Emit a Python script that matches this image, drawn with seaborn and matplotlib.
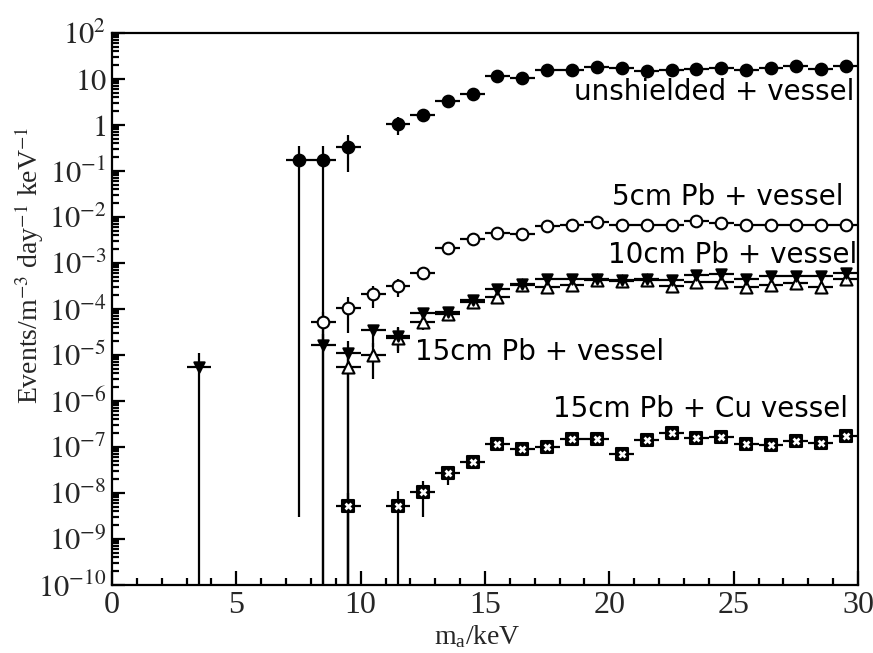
import numpy as np
import pandas as pd
import matplotlib
matplotlib.use("Agg")
import matplotlib.pyplot as plt
import seaborn as sns
from matplotlib.ticker import FixedLocator, FixedFormatter, MultipleLocator, LogLocator, NullFormatter

# ---------------- data: bin centres (keV), rates and error-bar bounds ----------------
BIN_HALF = 0.5

unsh_x = [7.5, 8.5, 9.5, 11.5, 12.5, 13.5, 14.5, 15.5, 16.5, 17.5, 18.5, 19.5,
          20.5, 21.5, 22.5, 23.5, 24.5, 25.5, 26.5, 27.5, 28.5, 29.5]
unsh_y = [0.17, 0.17, 0.33, 1.05, 1.65, 3.3, 4.7, 11.7, 10.5, 15.7, 15.7, 18.3,
          17.3, 14.9, 15.7, 16.5, 17.3, 15.7, 17.3, 19.2, 16.5, 19.2]
unsh_lo = [3e-9, 0.0, 0.095, 0.6, 1.15, 2.8, 4.2, 11.0, 9.9, 14.9, 14.9, 17.4,
           16.4, 14.1, 14.9, 15.7, 16.4, 14.9, 16.4, 18.3, 15.7, 18.3]
unsh_hi = [0.35, 0.35, 0.6, 1.5, 2.15, 4.0, 5.4, 12.4, 11.1, 16.5, 16.5, 19.2,
           18.2, 15.7, 16.5, 17.3, 18.2, 16.5, 18.2, 20.1, 17.3, 20.1]

pb5_x = [8.5, 9.5, 10.5, 11.5, 12.5, 13.5, 14.5, 15.5, 16.5, 17.5, 18.5, 19.5,
         20.5, 21.5, 22.5, 23.5, 24.5, 25.5, 26.5, 27.5, 28.5, 29.5]
pb5_y = [5.2e-5, 1.05e-4, 2.1e-4, 3.2e-4, 6.0e-4, 2.1e-3, 3.3e-3, 4.6e-3, 4.2e-3,
         6.5e-3, 6.7e-3, 7.6e-3, 6.8e-3, 6.7e-3, 6.7e-3, 8.2e-3, 7.5e-3, 6.8e-3,
         6.7e-3, 6.6e-3, 6.7e-3, 6.6e-3]
pb5_lo = [2.0e-5, 3.0e-5, 1.05e-4, 1.8e-4, 5.0e-4, 1.9e-3, 3.0e-3, 4.3e-3, 3.9e-3,
          6.1e-3, 6.3e-3, 7.2e-3, 6.4e-3, 6.3e-3, 6.3e-3, 7.8e-3, 7.1e-3, 6.4e-3,
          6.3e-3, 6.2e-3, 6.3e-3, 6.2e-3]
pb5_hi = [8.5e-5, 1.8e-4, 3.2e-4, 4.5e-4, 7.0e-4, 2.3e-3, 3.6e-3, 4.9e-3, 4.5e-3,
          6.9e-3, 7.1e-3, 8.0e-3, 7.2e-3, 7.1e-3, 7.1e-3, 8.6e-3, 7.9e-3, 7.2e-3,
          7.1e-3, 7.0e-3, 7.1e-3, 7.0e-3]

pb10_x = [3.5, 8.5, 9.5, 10.5, 11.5, 12.5, 13.5, 14.5, 15.5, 16.5, 17.5, 18.5,
          19.5, 20.5, 21.5, 22.5, 23.5, 24.5, 25.5, 26.5, 27.5, 28.5, 29.5]
pb10_y = [5.5e-6, 1.66e-5, 1.1e-5, 3.5e-5, 2.6e-5, 8.0e-5, 8.5e-5, 1.55e-4, 2.7e-4,
          3.5e-4, 4.5e-4, 4.5e-4, 4.5e-4, 4.3e-4, 4.5e-4, 4.3e-4, 5.5e-4, 5.8e-4,
          4.5e-4, 5.1e-4, 5.3e-4, 5.1e-4, 6.0e-4]
pb10_lo = [0.0, 0.0, 0.0, 1.5e-5, 1.2e-5, 6.5e-5, 7.3e-5, 1.4e-4, 2.5e-4,
           3.2e-4, 4.1e-4, 4.1e-4, 4.1e-4, 3.9e-4, 4.1e-4, 3.9e-4, 5.0e-4, 5.3e-4,
           4.1e-4, 4.7e-4, 4.9e-4, 4.7e-4, 5.5e-4]
pb10_hi = [1.1e-5, 2.8e-5, 2.0e-5, 4.5e-5, 4.0e-5, 9.5e-5, 9.7e-5, 1.7e-4, 2.9e-4,
           3.8e-4, 4.9e-4, 4.9e-4, 4.9e-4, 4.7e-4, 4.9e-4, 4.7e-4, 6.0e-4, 6.3e-4,
           4.9e-4, 5.5e-4, 5.7e-4, 5.5e-4, 6.5e-4]

pb15_x = [9.5, 10.5, 11.5, 12.5, 13.5, 14.5, 15.5, 16.5, 17.5, 18.5, 19.5, 20.5,
          21.5, 22.5, 23.5, 24.5, 25.5, 26.5, 27.5, 28.5, 29.5]
pb15_y = [5.5e-6, 1.0e-5, 2.4e-5, 5.2e-5, 7.8e-5, 1.45e-4, 1.8e-4, 3.3e-4, 3.0e-4,
          3.3e-4, 4.2e-4, 4.0e-4, 4.2e-4, 3.2e-4, 3.8e-4, 3.8e-4, 3.0e-4, 3.4e-4,
          3.6e-4, 3.0e-4, 4.4e-4]
pb15_lo = [0.0, 3.0e-6, 1.1e-5, 3.5e-5, 6.5e-5, 1.3e-4, 1.65e-4, 3.0e-4, 2.75e-4,
           3.0e-4, 3.85e-4, 3.65e-4, 3.85e-4, 2.9e-4, 3.5e-4, 3.5e-4, 2.75e-4,
           3.1e-4, 3.3e-4, 2.75e-4, 4.0e-4]
pb15_hi = [1.1e-5, 1.8e-5, 3.8e-5, 7.0e-5, 9.2e-5, 1.6e-4, 1.95e-4, 3.6e-4, 3.25e-4,
           3.6e-4, 4.55e-4, 4.35e-4, 4.55e-4, 3.5e-4, 4.1e-4, 4.1e-4, 3.25e-4,
           3.7e-4, 3.9e-4, 3.25e-4, 4.8e-4]

cu_x = [9.5, 11.5, 12.5, 13.5, 14.5, 15.5, 16.5, 17.5, 18.5, 19.5, 20.5, 21.5,
        22.5, 23.5, 24.5, 25.5, 26.5, 27.5, 28.5, 29.5]
cu_y = [5.3e-9, 5.3e-9, 1.07e-8, 2.7e-8, 4.8e-8, 1.17e-7, 9.0e-8, 1.0e-7, 1.5e-7,
        1.5e-7, 6.9e-8, 1.4e-7, 2.0e-7, 1.55e-7, 1.65e-7, 1.17e-7, 1.1e-7, 1.35e-7,
        1.2e-7, 1.7e-7]
cu_lo = [0.0, 0.0, 3.0e-9, 1.5e-8, 3.7e-8, 1.05e-7, 8.0e-8, 9.0e-8, 1.35e-7,
         1.35e-7, 6.0e-8, 1.26e-7, 1.8e-7, 1.4e-7, 1.5e-7, 1.05e-7, 1.0e-7, 1.22e-7,
         1.08e-7, 1.53e-7]
cu_hi = [1.0e-8, 1.1e-8, 1.8e-8, 3.8e-8, 6.0e-8, 1.29e-7, 1.0e-7, 1.1e-7, 1.65e-7,
         1.65e-7, 7.8e-8, 1.54e-7, 2.2e-7, 1.7e-7, 1.8e-7, 1.29e-7, 1.2e-7, 1.48e-7,
         1.32e-7, 1.87e-7]

y_tick_vals = [1e-10, 1e-9, 1e-8, 1e-7, 1e-6, 1e-5, 1e-4, 1e-3, 1e-2, 1e-1, 1, 10, 100]
y_tick_text = [r"$10^{-10}$", r"$10^{-9}$", r"$10^{-8}$", r"$10^{-7}$", r"$10^{-6}$",
               r"$10^{-5}$", r"$10^{-4}$", r"$10^{-3}$", r"$10^{-2}$", r"$10^{-1}$",
               r"$1$", r"$10$", r"$10^{2}$"]
x_tick_vals = [0, 5, 10, 15, 20, 25, 30]

# ---------------- style ----------------
sns.set_style("ticks")
plt.rcParams["font.family"] = ["Liberation Serif", "DejaVu Serif"]
plt.rcParams["mathtext.fontset"] = "stix"
plt.rcParams["axes.linewidth"] = 1.6

fig = plt.figure(figsize=(8.73, 6.53), dpi=100)
ax = fig.add_axes([112 / 873, 1 - 585 / 653, 746 / 873, 552 / 653])
ax.set_yscale("log", nonpositive="clip")


def draw_series(xs, ys, lo, hi, marker, face, size, edge_w=1.5):
    xs = np.asarray(xs, float)
    ys = np.asarray(ys, float)
    lo = np.asarray(lo, float)
    hi = np.asarray(hi, float)
    ax.errorbar(xs, ys, xerr=BIN_HALF, yerr=[ys - lo, hi - ys], fmt="none",
                ecolor="black", elinewidth=1.6, capsize=0, zorder=2)
    df = pd.DataFrame({"x": xs, "y": ys})
    sns.scatterplot(data=df, x="x", y="y", ax=ax, marker=marker, s=size,
                    facecolor=face, edgecolor="black", linewidth=edge_w,
                    zorder=3, legend=False)
    return df


draw_series(unsh_x, unsh_y, unsh_lo, unsh_hi, "o", "black", 70)
draw_series(pb5_x, pb5_y, pb5_lo, pb5_hi, "o", "white", 70)
draw_series(pb15_x, pb15_y, pb15_lo, pb15_hi, "^", "white", 75)
draw_series(pb10_x, pb10_y, pb10_lo, pb10_hi, "v", "black", 55)
cu_df = draw_series(cu_x, cu_y, cu_lo, cu_hi, "s", "black", 70)
# white cross cut into each copper-vessel square
sns.scatterplot(data=cu_df, x="x", y="y", ax=ax, marker="X", s=32,
                color="white", edgecolor="white", linewidth=0, zorder=4, legend=False)

# ---------------- axes ----------------
ax.set_xlim(0, 30)
ax.set_ylim(1e-10, 1e2)
ax.xaxis.set_major_locator(FixedLocator(x_tick_vals))
ax.xaxis.set_minor_locator(MultipleLocator(1))
ax.yaxis.set_major_locator(FixedLocator(y_tick_vals))
ax.yaxis.set_major_formatter(FixedFormatter(y_tick_text))
ax.yaxis.set_minor_locator(LogLocator(base=10, subs=np.arange(2, 10), numticks=30))
ax.yaxis.set_minor_formatter(NullFormatter())
ax.tick_params(axis="both", which="both", direction="in", top=False, right=False,
               width=1.6, color="black")
ax.tick_params(axis="x", which="major", length=10, pad=4, labelsize=23)
ax.tick_params(axis="x", which="minor", length=5)
ax.tick_params(axis="y", which="major", length=9, pad=4, labelsize=22)
ax.tick_params(axis="y", which="minor", length=5)

ax.set_xlabel(r"$\mathregular{m_a}$/keV", fontsize=20, loc="center")
ax.xaxis.set_label_coords(0.49, -0.07)
ax.set_ylabel(r"Events/m$^{-3}$ day$^{-1}$ keV$^{-1}$", fontsize=20, loc="center")
ax.yaxis.set_label_coords(-0.088, 0.58)

for side in ["top", "right", "bottom", "left"]:
    ax.spines[side].set_visible(True)
    ax.spines[side].set_color("black")

# ---------------- curve annotations ----------------
lab_font = dict(family=["DejaVu Sans"], fontsize=20, color="black")
ax.text(29.85, 5.2, "unshielded + vessel", ha="right", va="center", **lab_font)
ax.text(29.4, 2.7e-2, "5cm Pb + vessel", ha="right", va="center", **lab_font)
ax.text(29.95, 1.5e-3, "10cm Pb + vessel", ha="right", va="center", **lab_font)
ax.text(12.2, 1.17e-5, "15cm Pb + vessel", ha="left", va="center", **lab_font)
ax.text(29.6, 6.7e-7, "15cm Pb + Cu vessel", ha="right", va="center", **lab_font)

fig.savefig("out.png", dpi=100)
